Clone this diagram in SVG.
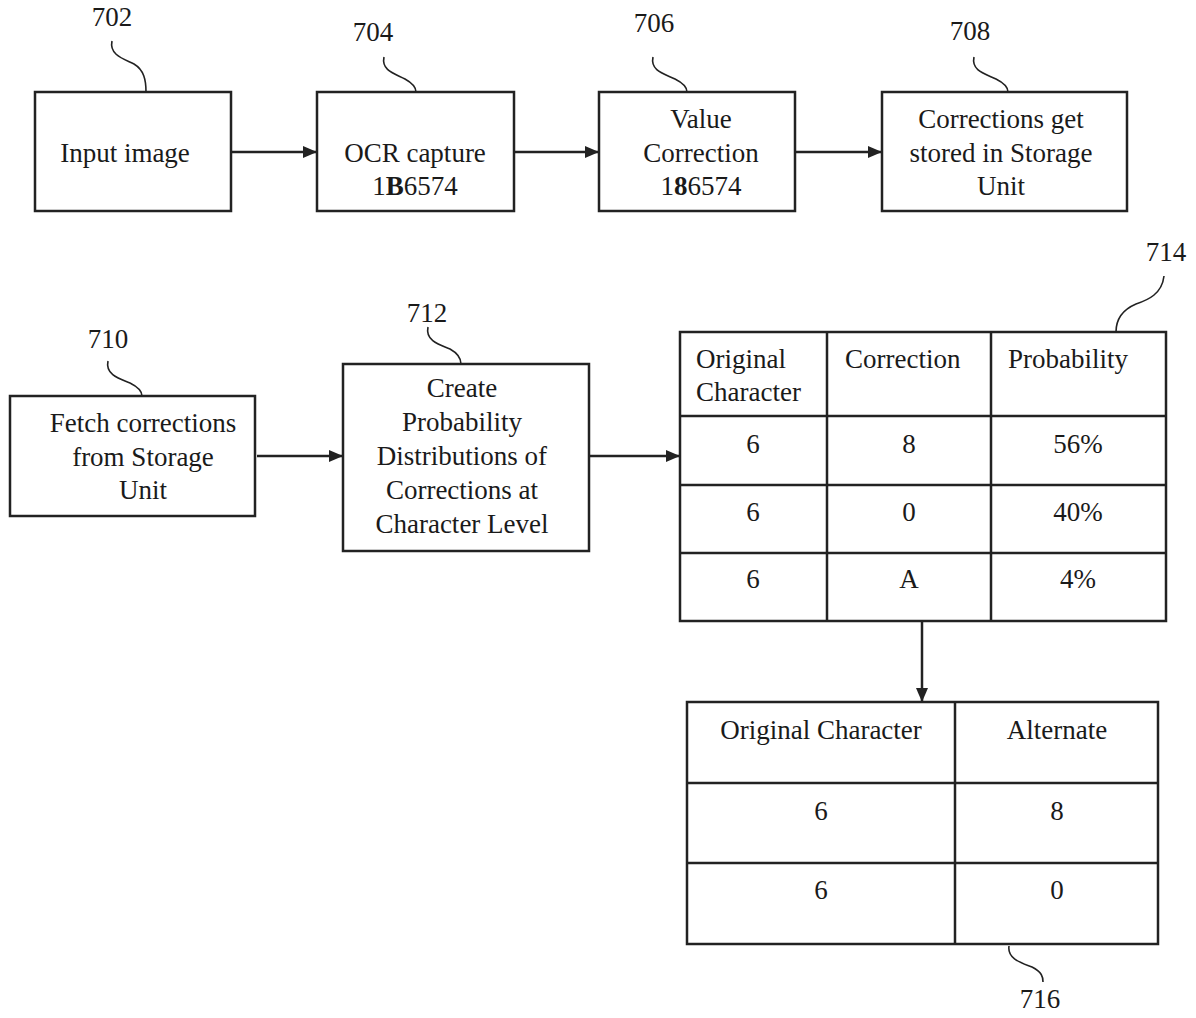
<svg xmlns="http://www.w3.org/2000/svg" width="1196" height="1018" viewBox="0 0 1196 1018">
<style>
text{font-family:"Liberation Serif","Times New Roman",serif;font-size:27px;fill:#1a1a1a}
.c{text-anchor:middle}
.box{fill:#fff;stroke:#222;stroke-width:2.5}
.ln{fill:none;stroke:#222;stroke-width:2.5}
.ld{fill:none;stroke:#222;stroke-width:1.6}
.ar{fill:none;stroke:#222;stroke-width:2.5;marker-end:url(#ah)}
</style>
<defs>
<marker id="ah" markerWidth="14" markerHeight="12" refX="14" refY="6" orient="auto" markerUnits="userSpaceOnUse">
<path d="M0,0 L14,6 L0,12 Z" fill="#222"/>
</marker>
</defs>
<rect width="1196" height="1018" fill="#fff"/>

<g id="connectors">
<line class="ar" x1="231" y1="152" x2="317" y2="152"/>
<line class="ar" x1="514" y1="152" x2="599" y2="152"/>
<line class="ar" x1="795" y1="152" x2="882" y2="152"/>
<line class="ar" x1="257" y1="456" x2="343" y2="456"/>
<line class="ar" x1="589" y1="456" x2="680" y2="456"/>
<line class="ar" x1="922" y1="621" x2="922" y2="702"/>
</g>

<g id="n702">
<rect class="box" x="35" y="92" width="196" height="119"/>
<text class="c" x="125" y="162">Input image</text>
<text class="c" x="112" y="26">702</text>
<path class="ld" d="M112,41 C109,55 124,59 134,64 C144,70 146,80 146,92"/>
</g>

<g id="n704">
<rect class="box" x="317" y="92" width="197" height="119"/>
<text class="c" x="415" y="162">OCR capture</text>
<text class="c" x="415" y="195">1<tspan font-weight="bold">B</tspan>6574</text>
<text class="c" x="373" y="41">704</text>
<path class="ld" d="M384,57 C381,71 396,74 405,79 C414,84 416,88 416,92"/>
</g>

<g id="n706">
<rect class="box" x="599" y="92" width="196" height="119"/>
<text class="c" x="701" y="128">Value</text>
<text class="c" x="701" y="162">Correction</text>
<text class="c" x="701" y="195">1<tspan font-weight="bold">8</tspan>6574</text>
<text class="c" x="654" y="32">706</text>
<path class="ld" d="M653,57 C650,71 665,74 675,79 C685,84 687,88 687,92"/>
</g>

<g id="n708">
<rect class="box" x="882" y="92" width="245" height="119"/>
<text class="c" x="1001" y="128">Corrections get</text>
<text class="c" x="1001" y="162">stored in Storage</text>
<text class="c" x="1001" y="195">Unit</text>
<text class="c" x="970" y="40">708</text>
<path class="ld" d="M974,57 C971,71 986,74 996,79 C1006,84 1008,88 1008,92"/>
</g>

<g id="n710">
<rect class="box" x="10" y="396" width="245" height="120"/>
<text class="c" x="143" y="432">Fetch corrections</text>
<text class="c" x="143" y="466">from Storage</text>
<text class="c" x="143" y="499">Unit</text>
<text class="c" x="108" y="348">710</text>
<path class="ld" d="M108,361 C105,375 120,379 130,383 C140,388 142,392 142,396"/>
</g>

<g id="n712">
<rect class="box" x="343" y="364" width="246" height="187"/>
<text class="c" x="462" y="397">Create</text>
<text class="c" x="462" y="431">Probability</text>
<text class="c" x="462" y="465">Distributions of</text>
<text class="c" x="462" y="499">Corrections at</text>
<text class="c" x="462" y="533">Character Level</text>
<text class="c" x="427" y="322">712</text>
<path class="ld" d="M428,327 C425,341 440,345 450,349 C459,354 461,359 461,364"/>
</g>

<g id="n714">
<rect class="box" x="680" y="332" width="486" height="289"/>
<line class="ln" x1="827" y1="332" x2="827" y2="621"/>
<line class="ln" x1="991" y1="332" x2="991" y2="621"/>
<line class="ln" x1="680" y1="416" x2="1166" y2="416"/>
<line class="ln" x1="680" y1="485" x2="1166" y2="485"/>
<line class="ln" x1="680" y1="553" x2="1166" y2="553"/>
<text x="696" y="368">Original</text>
<text x="696" y="401">Character</text>
<text x="845" y="368">Correction</text>
<text x="1008" y="368">Probability</text>
<text class="c" x="753" y="453">6</text>
<text class="c" x="909" y="453">8</text>
<text class="c" x="1078" y="453">56%</text>
<text class="c" x="753" y="521">6</text>
<text class="c" x="909" y="521">0</text>
<text class="c" x="1078" y="521">40%</text>
<text class="c" x="753" y="588">6</text>
<text class="c" x="909" y="588">A</text>
<text class="c" x="1078" y="588">4%</text>
<text class="c" x="1166" y="261">714</text>
<path class="ld" d="M1164,276 C1162,294 1148,300 1136,304 C1122,310 1116,320 1116,332"/>
</g>

<g id="n716">
<rect class="box" x="687" y="702" width="471" height="242"/>
<line class="ln" x1="955" y1="702" x2="955" y2="944"/>
<line class="ln" x1="687" y1="783" x2="1158" y2="783"/>
<line class="ln" x1="687" y1="863" x2="1158" y2="863"/>
<text class="c" x="821" y="739">Original Character</text>
<text class="c" x="1057" y="739">Alternate</text>
<text class="c" x="821" y="820">6</text>
<text class="c" x="1057" y="820">8</text>
<text class="c" x="821" y="899">6</text>
<text class="c" x="1057" y="899">0</text>
<text class="c" x="1040" y="1008">716</text>
<path class="ld" d="M1009,946 C1007,959 1022,963 1032,967 C1042,972 1043,977 1043,982"/>
</g>
</svg>
